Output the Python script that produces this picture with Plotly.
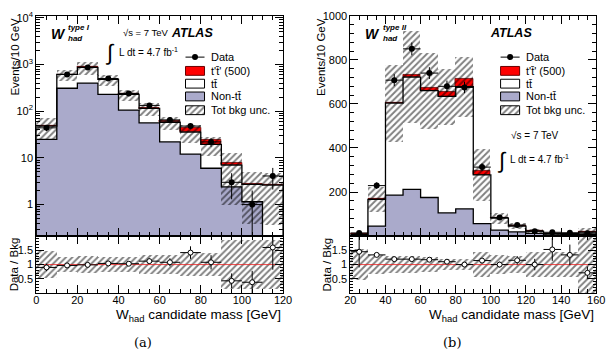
import plotly.graph_objects as go

# ---------------- panel (a): W_had type I (log scale) ----------------
edges_a = [0, 10, 20, 30, 40, 50, 60, 70, 80, 90, 100, 110, 120]
centers_a = [5, 15, 25, 35, 45, 55, 65, 75, 85, 95, 105, 115]
nontt_a = [25, 310, 400, 230, 105, 56, 22, 12, 6.0, 2.4, 1.15, 0.1]
tt_a = [23, 305, 470, 250, 125, 59, 36, 23.5, 13.5, 4.6, 1.55, 2.5]
ttp_a = [0, 0, 0, 0, 0.5, 1.5, 3.5, 8.5, 5.0, 0.8, 0.1, 0.1]
data_a = [44, 610, 860, 500, 240, 133, 65, 48, 22, 3.0, 1.0, 4.1]
data_err_a = [6.6, 24.7, 29.3, 22.4, 15.5, 11.5, 8.1, 6.9, 4.7, 1.7, 1.0, 2.0]
unc_a = [0.49, 0.27, 0.30, 0.27, 0.27, 0.32, 0.32, 0.42, 0.42, 0.86, 0.86, 0.86]
ratio_a = [0.90, 0.97, 0.99, 1.04, 1.03, 1.12, 1.08, 1.42, 1.08, 0.43, 0.38, 1.60]
ratio_err_a = [0.13, 0.04, 0.03, 0.05, 0.07, 0.10, 0.14, 0.22, 0.25, 0.26, 0.40, 0.78]

# ---------------- panel (b): W_had type II (linear) ----------------
edges_b = [20, 30, 40, 50, 60, 70, 80, 90, 100, 110, 120, 130, 140, 150, 160]
centers_b = [25, 35, 45, 55, 65, 75, 85, 95, 105, 115, 125, 135, 145, 155]
nontt_b = [2, 45, 186, 212, 175, 105, 123, 56, 27, 19, 12, 9, 8, 8]
tt_b = [6, 122, 418, 510, 485, 529, 555, 222, 54, 26, 10, 2, 3, 10]
ttp_b = [0, 3, 2, 8, 14, 20, 34, 18, 3, 1, 0.5, 0.3, 0.2, 0.1]
data_b = [14, 229, 708, 850, 740, 680, 675, 313, 84, 50, 22, 17, 15, 13]
data_err_b = [3.7, 15, 27, 29, 27, 26, 26, 18, 9, 7, 4.7, 4.1, 3.9, 3.6]
unc_b = [0.55, 0.34, 0.29, 0.29, 0.26, 0.20, 0.20, 0.43, 0.33, 0.30, 0.45, 0.45, 0.45, 1.0]
ratio_b = [1.45, 1.34, 1.19, 1.19, 1.17, 1.10, 1.00, 1.14, 1.00, 1.15, 1.00, 1.53, 1.34, 0.71]
ratio_err_b = [0.55, 0.06, 0.04, 0.04, 0.04, 0.04, 0.04, 0.06, 0.10, 0.15, 0.20, 0.40, 0.36, 0.22]

PURPLE = "#aaaacb"
RED = "#ff0000"
DARKRED = "#6a0000"
HATCH = dict(shape="/", fgcolor="#000000", size=4.5, solidity=0.42)
FONT = "Liberation Sans, Arial, sans-serif"

fig = go.Figure()


def step_xy(edges, vals, bottom):
    xs = [edges[0]] + list(edges) + [edges[-1]]
    ys = [bottom] + list(vals) + [vals[-1], bottom]
    return xs, ys


def add_panel(xa, ya, xr, yr, edges, centers, nontt, tt, ttp, data, derr, unc,
              ratio, rerr, log):
    bkg = [a + b for a, b in zip(nontt, tt)]
    bottom = 1e-3 if log else 0
    n = len(centers)
    halfw = [5] * n
    common = dict(xaxis=xa, yaxis=ya, width=10, showlegend=False, hoverinfo="skip")
    fig.add_bar(x=centers, y=nontt, marker=dict(color=PURPLE, line_width=0), **common)
    fig.add_bar(x=centers, y=tt, base=nontt, marker=dict(color="white", line_width=0), **common)
    fig.add_bar(x=centers, y=ttp, base=bkg,
                marker=dict(color=RED, line=dict(color=DARKRED, width=0.8)), **common)
    lo = [b * (1 - u) for b, u in zip(bkg, unc)]
    span = [2 * b * u for b, u in zip(bkg, unc)]
    fig.add_bar(x=centers, y=span, base=lo,
                marker=dict(color="rgba(0,0,0,0)", line_width=0, pattern=HATCH), **common)
    for vals in (nontt, bkg):
        xs, ys = step_xy(edges, vals, bottom)
        fig.add_scatter(x=xs, y=ys, mode="lines", line=dict(color="black", width=1.3, shape="hv"),
                        xaxis=xa, yaxis=ya, showlegend=False, hoverinfo="skip")
    fig.add_scatter(x=centers, y=data, mode="markers",
                    marker=dict(color="black", size=6),
                    error_y=dict(type="data", array=derr, color="black", thickness=1, width=0),
                    error_x=dict(type="data", array=halfw, color="black", thickness=1, width=0),
                    xaxis=xa, yaxis=ya, showlegend=False, hoverinfo="skip")
    # ratio panel
    rlo = [1 - u for u in unc]
    rspan = [2 * u for u in unc]
    fig.add_bar(x=centers, y=rspan, base=rlo, width=10, xaxis=xr, yaxis=yr,
                marker=dict(color="rgba(0,0,0,0)", line_width=0, pattern=HATCH),
                showlegend=False, hoverinfo="skip")
    fig.add_scatter(x=[edges[0], edges[-1]], y=[1, 1], mode="lines",
                    line=dict(color="rgba(235,40,40,0.85)", width=1),
                    xaxis=xr, yaxis=yr, showlegend=False, hoverinfo="skip")
    fig.add_scatter(x=centers, y=ratio, mode="markers",
                    marker=dict(color="white", size=5, line=dict(color="black", width=1)),
                    error_y=dict(type="data", array=rerr, color="black", thickness=1, width=0),
                    error_x=dict(type="data", array=halfw, color="black", thickness=1, width=0),
                    xaxis=xr, yaxis=yr, showlegend=False, hoverinfo="skip")


add_panel("x", "y", "x2", "y2", edges_a, centers_a, nontt_a, tt_a, ttp_a, data_a,
          data_err_a, unc_a, ratio_a, ratio_err_a, True)
add_panel("x3", "y3", "x4", "y4", edges_b, centers_b, nontt_b, tt_b, ttp_b, data_b,
          data_err_b, unc_b, ratio_b, ratio_err_b, False)

# ---------------- legends (pixel overlay axis) ----------------
legend_rows = [("Data", 52), ("t't\u0304' (500)", 66), ("tt\u0304", 79), ("Non-tt\u0304", 92),
               ("Tot bkg unc.", 106)]
legend_x = [184, 507]
annotations = []
for lx in legend_x:
    fig.add_scatter(x=[lx, lx + 19.5], y=[52, 52], mode="lines", line=dict(color="black", width=1),
                    xaxis="x5", yaxis="y5", showlegend=False, hoverinfo="skip")
    fig.add_scatter(x=[lx + 9.75], y=[52], mode="markers", marker=dict(color="black", size=6),
                    xaxis="x5", yaxis="y5", showlegend=False, hoverinfo="skip")
    boxes = [(RED, DARKRED, None, 66), ("white", "black", None, 79),
             (PURPLE, "black", None, 92), ("rgba(0,0,0,0)", "black", HATCH, 106)]
    for fillc, linec, patt, cy in boxes:
        kw = dict(fillpattern=dict(HATCH)) if patt else {}
        fig.add_scatter(x=[lx, lx + 19.5, lx + 19.5, lx, lx], y=[cy - 4.5, cy - 4.5, cy + 4.5, cy + 4.5, cy - 4.5],
                        mode="lines", fill="toself", fillcolor=fillc,
                        line=dict(color=linec, width=1), xaxis="x5", yaxis="y5",
                        showlegend=False, hoverinfo="skip", **kw)
    for txt, cy in legend_rows:
        annotations.append(dict(x=lx + 24, y=cy, text=txt, xanchor="left", yanchor="middle",
                                font=dict(size=11, color="black", family=FONT)))


def ann(x, y, text, size, xanchor="left", yanchor="middle", family=FONT, angle=0):
    annotations.append(dict(x=x, y=y, text=text, xanchor=xanchor, yanchor=yanchor,
                            textangle=angle, font=dict(size=size, color="black", family=family)))


ann(54, 28, "<b><i>W</i></b>", 14, "center")
ann(61, 22, "<b><i>type I</i></b>", 8)
ann(61, 33, "<b><i>had</i></b>", 8)
ann(118, 27, "\u221as = 7 TeV", 9.5)
ann(167, 27, "<b><i>ATLAS</i></b>", 12.5)
ann(107, 47, "\u222b", 22, "center")
ann(114, 47, "L dt = 4.7 fb<sup>-1</sup>", 10)
ann(376, 28, "<b><i>W</i></b>", 14, "center")
ann(384, 22, "<b><i>type II</i></b>", 8)
ann(384, 33, "<b><i>had</i></b>", 8)
ann(494, 27, "<b><i>ATLAS</i></b>", 12.5)
ann(516, 132, "\u221as = 7 TeV", 10)
ann(508, 157, "\u222b", 22, "center")
ann(515, 156, "L dt = 4.7 fb<sup>-1</sup>", 10)
ann(284, 315, "W<sub>had</sub> candidate mass [GeV]", 13.5, "right")
ann(605, 315, "W<sub>had</sub> candidate mass [GeV]", 13.5, "right")
ann(9, 10, "Events/10 GeV", 11.5, "center", "top", angle=-90)
ann(323, 10, "Events/10 GeV", 11.5, "center", "top", angle=-90)
ann(8, 263, "Data / Bkg", 11.5, "center", "middle", angle=-90)
ann(329, 263, "Data / Bkg", 11.5, "center", "middle", angle=-90)
ann(140, 342, "(a)", 13, "center", family="DejaVu Serif, serif")
ann(457, 342, "(b)", 13, "center", family="DejaVu Serif, serif")
for a in annotations:
    a.update(xref="x5", yref="y5", showarrow=False)

# ---------------- axes ----------------
W, H = 613, 356
top_dom = [(H - 234) / H, (H - 10) / H]
rat_dom = [(H - 292) / H, (H - 234) / H]
left_dom = [31 / W, 284 / W]
right_dom = [353 / W, 605 / W]

axis_common = dict(showline=True, linecolor="black", linewidth=1, mirror="allticks",
                   ticks="inside", tickcolor="black", showgrid=False, zeroline=False,
                   tickfont=dict(size=11, family=FONT, color="black"))


def minor(vals, ln=4):
    return dict(ticks="inside", ticklen=ln, tickcolor="black", tickvals=vals, showgrid=False)


minor_log = [m * 10 ** e for e in range(-1, 5) for m in range(2, 10)]
minor_x_a = list(range(0, 121, 5))
minor_x_b = list(range(20, 161, 5))
minor_rat = [round(0.1 * i, 2) for i in range(0, 21)]
minor_lin = list(range(0, 1001, 40))

fig.update_layout(
    width=W, height=H, margin=dict(l=0, r=0, t=0, b=0),
    paper_bgcolor="white", plot_bgcolor="rgba(0,0,0,0)", barmode="overlay", bargap=0,
    annotations=annotations,
    xaxis=dict(domain=left_dom, anchor="y", range=[0, 120], tickvals=list(range(0, 121, 20)),
               showticklabels=False, ticklen=8, minor=minor(minor_x_a), **axis_common),
    yaxis=dict(domain=top_dom, anchor="x", type="log", range=[-0.674, 4.042],
               tickvals=[1, 10, 100, 1000, 10000],
               ticktext=["1", "10", "10<sup>2</sup>", "10<sup>3</sup>", "10<sup>4</sup>"],
               ticklen=8, minor=minor(minor_log), **axis_common),
    xaxis2=dict(domain=left_dom, anchor="y2", range=[0, 120], tickvals=list(range(0, 121, 20)),
                ticklen=8, ticklabelstandoff=-3, minor=minor(minor_x_a), **axis_common),
    yaxis2=dict(domain=rat_dom, anchor="x2", range=[0, 2], tickvals=[0.5, 1, 1.5],
                ticktext=["0.5", "1", "1.5"], ticklen=8, minor=minor(minor_rat, 3), **axis_common),
    xaxis3=dict(domain=right_dom, anchor="y3", range=[20, 160], tickvals=list(range(20, 161, 20)),
                showticklabels=False, ticklen=8, minor=minor(minor_x_b), **axis_common),
    yaxis3=dict(domain=top_dom, anchor="x3", range=[0, 1000], tickvals=[200, 400, 600, 800, 1000],
                ticklen=8, minor=minor(minor_lin), **axis_common),
    xaxis4=dict(domain=right_dom, anchor="y4", range=[20, 160], tickvals=list(range(20, 161, 20)),
                ticklen=8, ticklabelstandoff=-3, minor=minor(minor_x_b), **axis_common),
    yaxis4=dict(domain=rat_dom, anchor="x4", range=[0, 2], tickvals=[0.5, 1, 1.5],
                ticktext=["0.5", "1", "1.5"], ticklen=8, minor=minor(minor_rat, 3), **axis_common),
    xaxis5=dict(domain=[0, 1], anchor="y5", range=[0, W], visible=False, fixedrange=True),
    yaxis5=dict(domain=[0, 1], anchor="x5", range=[H, 0], visible=False, fixedrange=True),
)

fig.write_html("out.html")
